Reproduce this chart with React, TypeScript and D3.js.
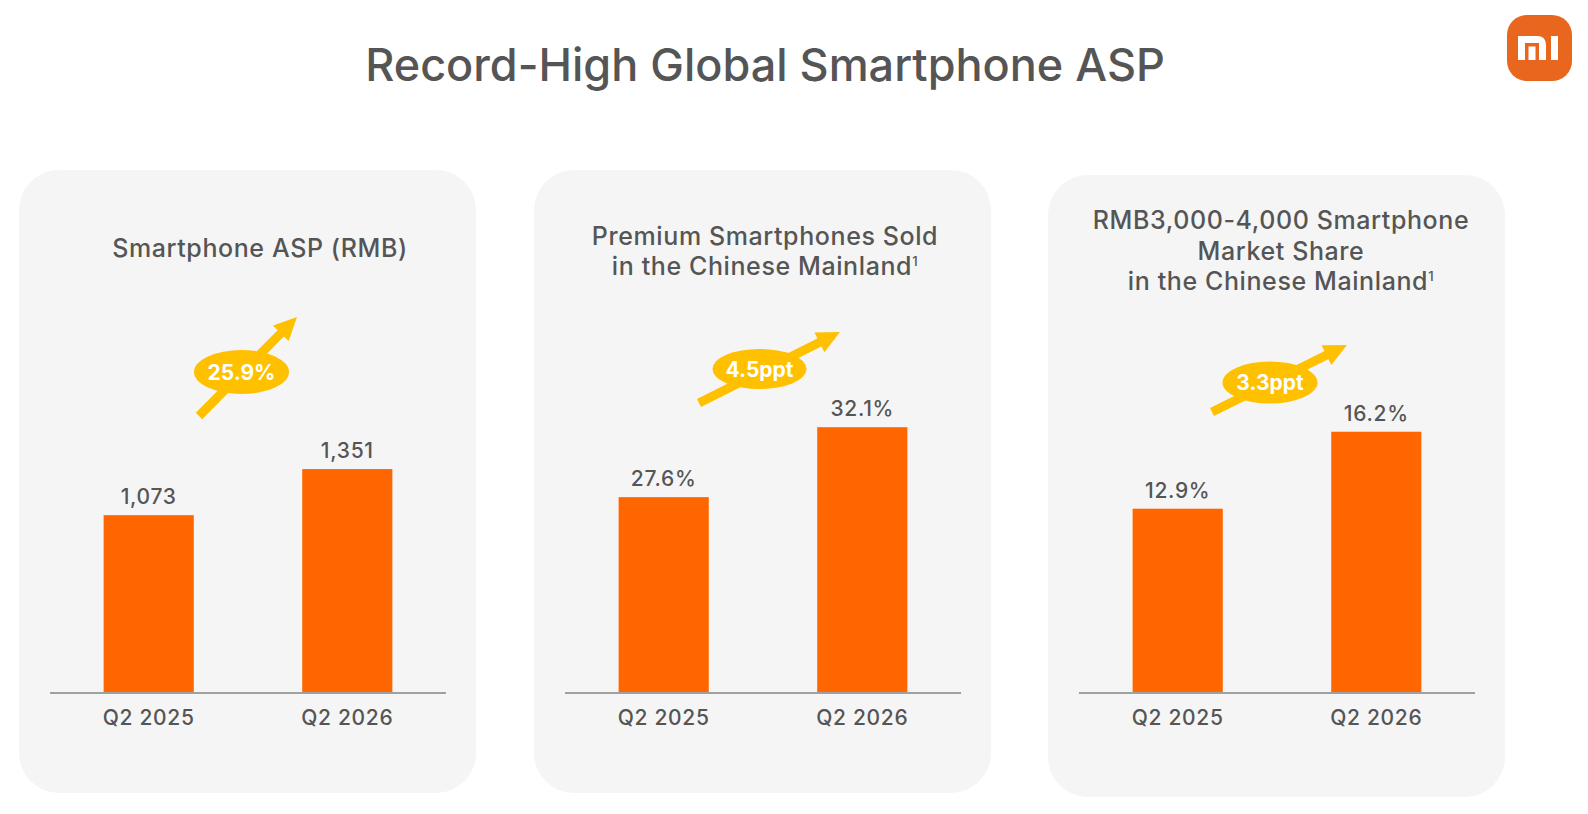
import React from 'react';
import * as d3 from 'd3';

// chart data
const categories = ['Q2 2025', 'Q2 2026'];
const aspValues = [1073, 1351];
const premiumShare = [27.6, 32.1];
const midRangeShare = [12.9, 16.2];
const changeLabels = ['25.9%', '4.5ppt', '3.3ppt'];
const panelTitles = [
  ['Smartphone ASP (RMB)'],
  ['Premium Smartphones Sold', 'in the Chinese Mainland'],
  ['RMB3,000-4,000 Smartphone', 'Market Share', 'in the Chinese Mainland'],
];
// value axis of each panel (the source does not start every axis at zero)
const axisDomains: [number, number][] = [[0, 1810], [15, 34.3], [5, 17.86]];

const W = 1588;
const H = 814;
const FONT = "Inter, 'Noto Sans', sans-serif";
const TEXT = '#555555';
const BAR = '#FF6600';
const GOLD = '#FFC000';

const panelX = [19, 534, 1048];
const panelY = [170, 170, 175];
const panelW = 457;
const panelH = [623, 623, 622];
const axisY = 693;
const plotTop = 393;

const titleX = [241, 231, 233];
const titleBase = [[257], [245, 275], [229, 260, 290]];

// growth arrow annotations, relative to panel left
const arrows = [
  { x0: 180, y0: 416, x1: 278, y1: 317, cx: 222.5, cy: 372, rx: 47.5, ry: 22 },
  { x0: 165, y0: 403, x1: 306, y1: 332, cx: 225.5, cy: 369, rx: 47, ry: 20 },
  { x0: 164, y0: 412, x1: 299, y1: 345, cx: 222, cy: 382.5, rx: 47.5, ry: 21 },
];

const fmtInt = d3.format(',');
const fmtPct = (v: number) => d3.format('.1f')(v) + '%';

const panels = [
  { values: aspValues, fmt: fmtInt },
  { values: premiumShare, fmt: fmtPct },
  { values: midRangeShare, fmt: fmtPct },
];

function Arrow({ a }: { a: (typeof arrows)[number] }) {
  const dx = a.x1 - a.x0;
  const dy = a.y1 - a.y0;
  const len = Math.hypot(dx, dy);
  const ux = dx / len;
  const uy = dy / len;
  const headLen = 23;
  const headHalf = 11;
  const bx = a.x1 - ux * headLen;
  const by = a.y1 - uy * headLen;
  const head = [
    [a.x1, a.y1],
    [bx - uy * headHalf, by + ux * headHalf],
    [bx + uy * headHalf, by - ux * headHalf],
  ];
  return (
    <g>
      <line x1={a.x0} y1={a.y0} x2={bx + ux * 2} y2={by + uy * 2} stroke={GOLD} strokeWidth={9} />
      <polygon points={head.map((p) => p.join(',')).join(' ')} fill={GOLD} />
      <ellipse cx={a.cx} cy={a.cy} rx={a.rx} ry={a.ry} fill={GOLD} />
    </g>
  );
}

function Panel({ i }: { i: number }) {
  const { values, fmt } = panels[i];
  const x = d3.scaleBand<string>().domain(categories).range([31, 427]).paddingInner(0.546).paddingOuter(0.27);
  const y = d3.scaleLinear().domain(axisDomains[i]).range([axisY, plotTop]);
  const a = arrows[i];
  const lines = panelTitles[i];
  return (
    <g transform={`translate(${panelX[i]},0)`}>
      <rect x={0} y={panelY[i]} width={panelW} height={panelH[i]} rx={40} fill="#F5F5F5" />
      <g fontFamily={FONT} fontWeight={500} fontSize={25} letterSpacing={0.6} fill={TEXT} textAnchor="middle">
        {lines.map((t, k) => (
          <text key={k} x={titleX[i]} y={titleBase[i][k]}>
            {t}
            {k === lines.length - 1 && i > 0 ? (
              <tspan fontSize={13} dy={-9}>1</tspan>
            ) : null}
          </text>
        ))}
      </g>
      {values.map((v, k) => (
        <rect key={k} x={x(categories[k])} y={y(v)} width={x.bandwidth()} height={axisY - y(v)} fill={BAR} />
      ))}
      <line x1={31} x2={427} y1={axisY} y2={axisY} stroke="#A0A0A0" strokeWidth={2} />
      <g fontFamily={FONT} fontWeight={500} fontSize={21} letterSpacing={0.7} fill={TEXT} textAnchor="middle">
        {values.map((v, k) => (
          <text key={k} x={x(categories[k])! + x.bandwidth() / 2} y={y(v) - 11}>{fmt(v)}</text>
        ))}
        {categories.map((c) => (
          <text key={c} x={x(c)! + x.bandwidth() / 2} y={725}>{c}</text>
        ))}
      </g>
      <Arrow a={a} />
      <text x={a.cx} y={a.cy + 7.5} fontFamily={FONT} fontWeight={700} fontSize={21} fill="#FFFFFF" textAnchor="middle">
        {changeLabels[i]}
      </text>
    </g>
  );
}

function Logo() {
  const s = 65;
  const gx = 1518;
  const gy = 36;
  const t = 7;
  const h = 24;
  const nW = 28;
  const r = 9;
  const nPath = `M${gx},${gy + h} V${gy} H${gx + nW - r} Q${gx + nW},${gy} ${gx + nW},${gy + r} V${gy + h} H${gx + nW - t} V${gy + t} H${gx + t} V${gy + h} Z`;
  return (
    <g>
      <rect x={1507} y={15} width={s} height={s + 1} rx={20} fill="#E9661E" />
      <path d={nPath} fill="#FFFFFF" />
      <rect x={gx + t + 3.5} y={gy + t + 3.5} width={t} height={h - t - 3.5} fill="#FFFFFF" />
      <rect x={gx + nW + 5} y={gy} width={t} height={h} fill="#FFFFFF" />
    </g>
  );
}

export default function App() {
  return (
    <svg width={W} height={H} style={{ position: 'absolute', left: 0, top: 0, background: '#FFFFFF' }}>
      <text x={765} y={81} fontFamily={FONT} fontWeight={500} fontSize={45} fill={TEXT} textAnchor="middle">
        Record-High Global Smartphone ASP
      </text>
      <Logo />
      {panels.map((_, i) => (
        <Panel key={i} i={i} />
      ))}
    </svg>
  );
}
